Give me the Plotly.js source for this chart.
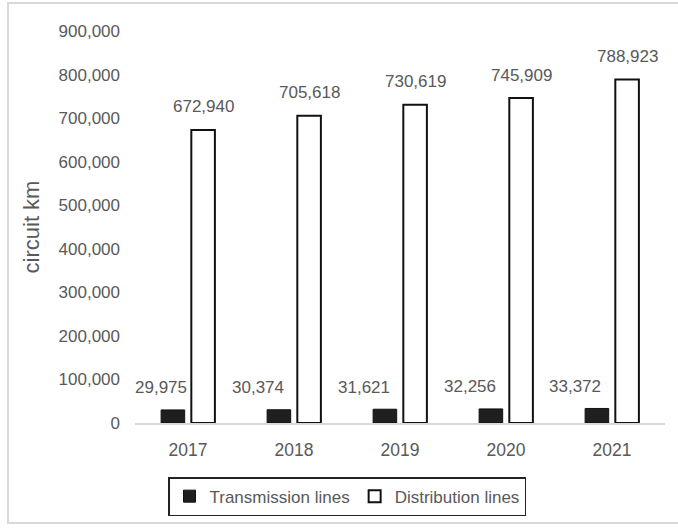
<!DOCTYPE html>
<html>
<head>
<meta charset="utf-8">
<script src="https://cdn.plot.ly/plotly-3.0.1.min.js"></script>
<style>
  html, body { margin: 0; padding: 0; background: #ffffff; }
  #chart { width: 678px; height: 528px; }
</style>
</head>
<body>
<div id="chart"></div>
<script>
// Circuit length of the power network, by year
const years = ['2017', '2018', '2019', '2020', '2021'];
const transmissionKm = [29975, 30374, 31621, 32256, 33372];
const distributionKm = [672940, 705618, 730619, 745909, 788923];
const seriesNames = ['Transmission lines', 'Distribution lines'];
const yTickValues = [0, 100000, 200000, 300000, 400000, 500000, 600000, 700000, 800000, 900000];

const sans = '"Liberation Sans", Arial, sans-serif';
const textGray = '#595959';
const fmt = v => v.toLocaleString('en-US');

// pixel offset of each bar from its category centre
const barOffset = 15;
// the transmission labels sit a little left of their bars
const transmissionNudge = [-12, -21, -21, -21, -22];

const traces = [
  {
    type: 'bar',
    name: seriesNames[0],
    x: years,
    y: transmissionKm,
    marker: { color: '#1f1f1f', line: { color: '#111111', width: 1 } },
    hoverinfo: 'x+y'
  },
  {
    type: 'bar',
    name: seriesNames[1],
    x: years,
    y: distributionKm,
    marker: { color: '#ffffff', line: { color: '#111111', width: 2 } },
    hoverinfo: 'x+y'
  }
];

// value labels, placed by category index on the category axis
const annotations = [];
years.forEach((yr, i) => {
  annotations.push({
    x: i, y: transmissionKm[i], xref: 'x', yref: 'y',
    text: fmt(transmissionKm[i]), showarrow: false,
    xanchor: 'center', yanchor: 'middle',
    xshift: -barOffset + transmissionNudge[i], yshift: 22,
    font: { family: sans, size: 17, color: textGray }
  });
  annotations.push({
    x: i, y: distributionKm[i], xref: 'x', yref: 'y',
    text: fmt(distributionKm[i]), showarrow: false,
    xanchor: 'center', yanchor: 'middle',
    xshift: barOffset, yshift: 23,
    font: { family: sans, size: 17, color: textGray }
  });
});

const layout = {
  width: 678,
  height: 528,
  margin: { l: 135, r: 13, t: 31, b: 105 },
  paper_bgcolor: '#ffffff',
  plot_bgcolor: '#ffffff',
  barmode: 'group',
  bargap: 0.43,
  bargroupgap: 0.22,
  showlegend: true,
  font: { family: sans, size: 17, color: textGray },
  xaxis: {
    type: 'category',
    categoryorder: 'array',
    categoryarray: years,
    range: [-0.5, 4.5],
    showline: true,
    linecolor: '#d9d9d9',
    linewidth: 2,
    showgrid: false,
    zeroline: false,
    ticks: '',
    ticklabelstandoff: 10,
    tickfont: { family: sans, size: 17.5, color: textGray }
  },
  yaxis: {
    range: [0, 900000],
    tickvals: yTickValues,
    ticktext: yTickValues.map(fmt),
    showline: false,
    showgrid: false,
    zeroline: false,
    ticks: '',
    ticklabelstandoff: 14,
    tickfont: { family: sans, size: 17, color: textGray },
    title: {
      text: 'circuit km',
      standoff: 12,
      font: { family: sans, size: 22, color: textGray }
    }
  },
  legend: {
    orientation: 'h',
    x: 0.4,
    xanchor: 'center',
    y: -0.138,
    yanchor: 'top',
    bordercolor: '#222222',
    borderwidth: 1.5,
    bgcolor: '#ffffff',
    font: { family: sans, size: 17, color: textGray },
    itemclick: false,
    itemdoubleclick: false
  },
  annotations: annotations,
  shapes: [
    {
      // light frame around the whole chart
      type: 'rect', xref: 'paper', yref: 'paper',
      x0: -0.2396, x1: 1.03, y0: -0.255, y1: 1.0714,
      line: { color: '#d9d9d9', width: 2 },
      fillcolor: 'rgba(0,0,0,0)',
      layer: 'below'
    }
  ]
};

Plotly.newPlot('chart', traces, layout, { displayModeBar: false, staticPlot: true });
</script>
</body>
</html>
